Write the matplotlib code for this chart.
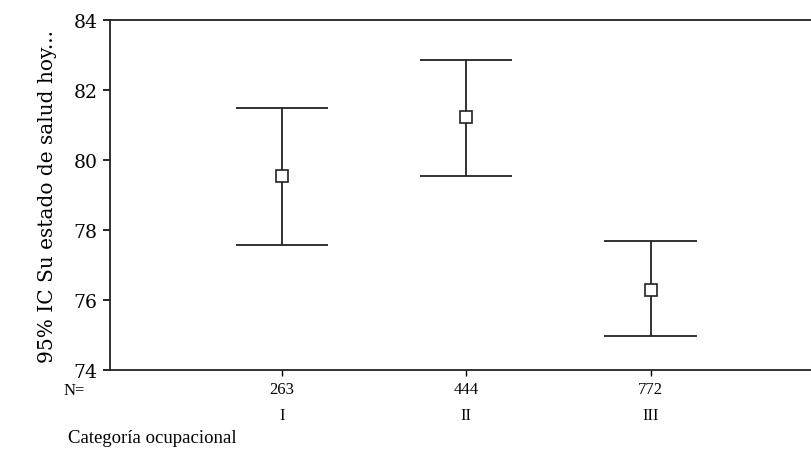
import matplotlib.pyplot as plt

# === Data ===
categories = ["I", "II", "III"]
n_counts = ["263", "444", "772"]
means = [79.55, 81.22, 76.30]
ci_low = [77.58, 79.55, 74.98]
ci_high = [81.48, 82.85, 77.70]

x = [1, 2, 3]

fig = plt.figure(figsize=(8.11, 4.52), dpi=100)
ax = fig.add_axes([0.1356, 0.1792, 0.8644, 0.7743])

serif = "DejaVu Serif"
cond = "Liberation Serif"

# error bars (vertical line + caps)
ax.vlines(x, ci_low, ci_high, color='#222222', linewidth=1.3, zorder=2)
cap = 0.25
ax.hlines(ci_low, [v - cap for v in x], [v + cap for v in x], color='#222222', linewidth=1.3)
ax.hlines(ci_high, [v - cap for v in x], [v + cap for v in x], color='#222222', linewidth=1.3)
ax.plot(x, means, linestyle='none', marker='s', markersize=8,
        markerfacecolor='white', markeredgecolor='#222222', markeredgewidth=1.2, zorder=3)

ax.set_xlim(0.068, 3.87)
ax.set_ylim(74, 84)
ax.set_yticks([74, 76, 78, 80, 82, 84])
ax.tick_params(axis='y', labelsize=13.5, length=5, width=1.2, direction='out', pad=4)
for lbl in ax.get_yticklabels():
    lbl.set_family(serif)

ax.set_xticks(x)
ax.set_xticklabels(n_counts, fontsize=12, family=cond)
ax.tick_params(axis='x', length=4, width=1.0, pad=4)

# second row of x labels (category names)
for xi, c in zip(x, categories):
    ax.text(xi, -0.105, c, transform=ax.get_xaxis_transform(), ha='center', va='top',
            fontsize=12, family=cond)
ax.text(-0.066, -0.035, "N=", transform=ax.transAxes, ha='left', va='top',
        fontsize=12, family=cond)
ax.text(-0.06, -0.17, "Categoría ocupacional", transform=ax.transAxes, ha='left', va='top',
        fontsize=13.5, family=cond)

ax.set_ylabel("95% IC Su estado de salud hoy...", fontsize=14.5, family=serif, labelpad=12)

ax.spines['right'].set_visible(False)
for s in ['left', 'top', 'bottom']:
    ax.spines[s].set_linewidth(1.3)
    ax.spines[s].set_color('#222222')

fig.savefig("out.png", dpi=100)
